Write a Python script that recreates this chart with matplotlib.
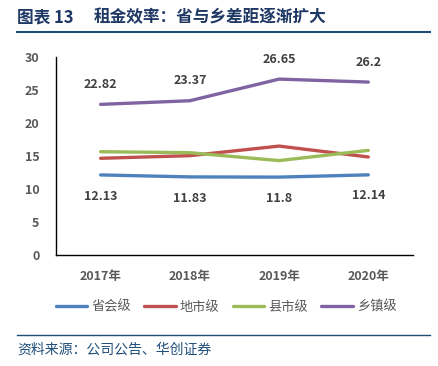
import matplotlib.pyplot as plt
from matplotlib.lines import Line2D

plt.rcParams['font.family'] = ['Noto Sans CJK SC', 'DejaVu Sans']

years = ['2017年', '2018年', '2019年', '2020年']
series_names = ['省会级', '地市级', '县市级', '乡镇级']
province = [12.13, 11.83, 11.8, 12.14]
city = [14.65, 15.05, 16.5, 14.85]
county = [15.65, 15.5, 14.3, 15.85]
town = [22.82, 23.37, 26.65, 26.2]
colors = ['#4F81BD', '#C0504D', '#9BBB59', '#8064A2']

fig = plt.figure(figsize=(4.39, 3.66), dpi=100)
ax = fig.add_axes([0.1276, 0.3033, 0.813, 0.541])

x = range(len(years))
for vals, c in zip([province, city, county, town], colors):
    ax.plot(x, vals, color=c, lw=2.4, solid_capstyle='round')

# data labels
for i, v in enumerate(town):
    ax.text(i, v + 3.0, f'{v:g}', ha='center', va='center', fontsize=9,
            fontweight='bold', color='#404040')
for i, v in enumerate(province):
    ax.text(i, v - 3.2, f'{v:g}', ha='center', va='center', fontsize=9,
            fontweight='bold', color='#404040')

ax.set_xlim(-0.5, 3.5)
ax.set_ylim(0, 30)
ax.set_yticks(range(0, 31, 5))
ax.set_xticks(list(x))
ax.set_xticklabels(years)
ax.tick_params(length=0, labelsize=9, labelcolor='#595959')
for lab in ax.get_xticklabels() + ax.get_yticklabels():
    lab.set_fontweight('bold')
ax.tick_params(axis='x', pad=11)
ax.tick_params(axis='y', pad=12)
for s in ['top', 'right']:
    ax.spines[s].set_visible(False)
for s in ['left', 'bottom']:
    ax.spines[s].set_color('#000000')
    ax.spines[s].set_linewidth(1.0)

handles = [Line2D([], [], color=c, lw=2.4, solid_capstyle='round') for c in colors]
fig.legend(handles, series_names, loc='center', bbox_to_anchor=(0.515, 0.161),
           ncol=4, frameon=False, fontsize=9.5, labelcolor='#595959',
           handlelength=2.4, handletextpad=0.3, columnspacing=1.0)

# title and rules
fig.text(0.039, 0.953, '图表 13', fontsize=12,
         fontweight='bold', color='#1F3864', va='center', ha='left')
fig.text(0.214, 0.953, '租金效率：省与乡差距逐渐扩大', fontsize=12,
         fontweight='bold', color='#1F3864', va='center', ha='left')
fig.add_artist(Line2D([0.039, 0.979], [0.9126, 0.9126], color='#1F4E79', lw=1.5))
fig.add_artist(Line2D([0.039, 0.979], [0.0847, 0.0847], color='#1F4E79', lw=1.0))
fig.text(0.039, 0.044, '资料来源：公司公告、华创证券', fontsize=10,
         color='#1F4E79', va='center', ha='left', style='italic')

fig.savefig('out.png', dpi=100)
